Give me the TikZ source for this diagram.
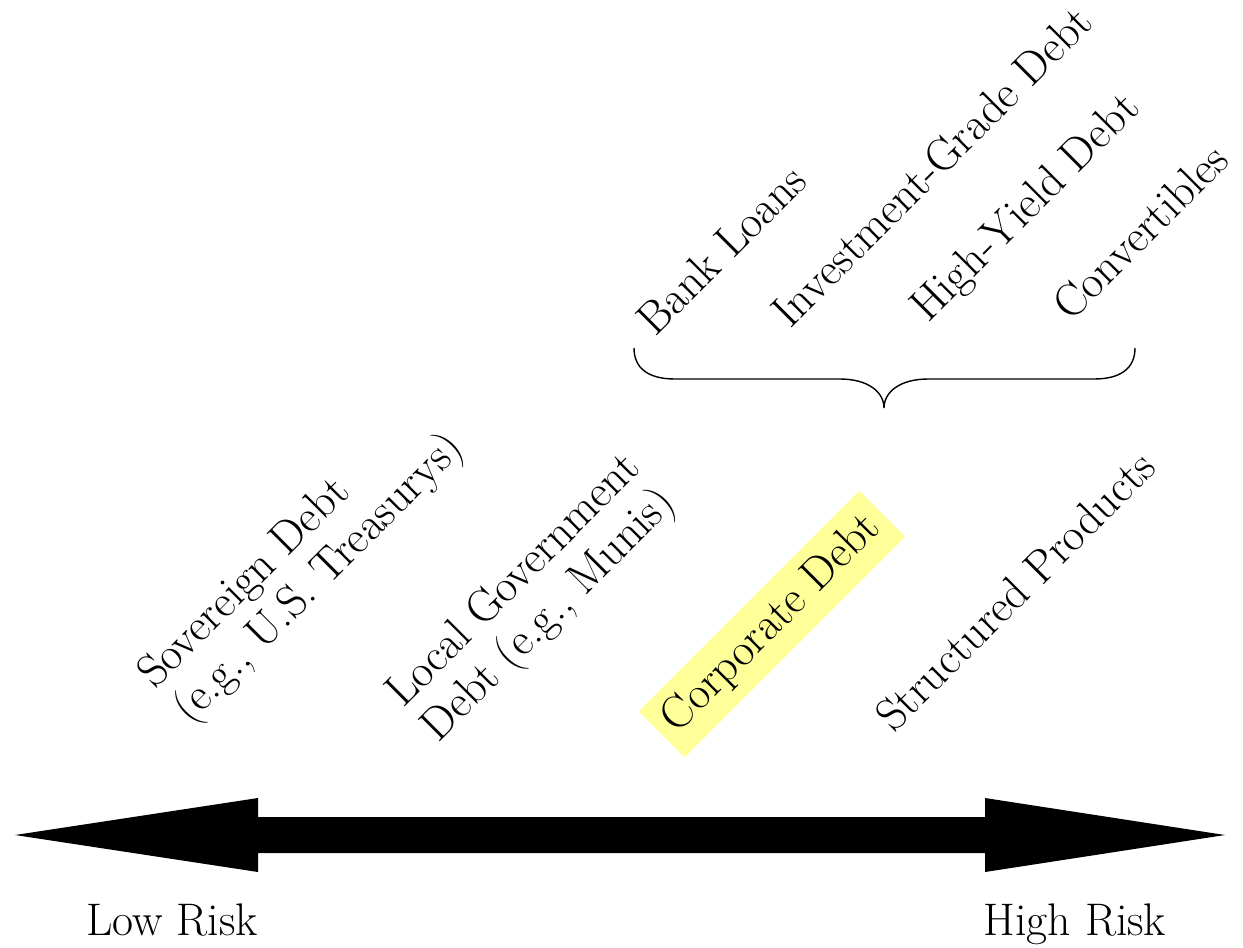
\documentclass[tikz,border=0pt]{standalone}
\usepackage{xcolor}
\usepackage{tikz}
\usetikzlibrary{calc, positioning}

\definecolor{hilite}{RGB}{255,255,153}

\begin{document}
\begin{tikzpicture}[x=0.02cm, y=-0.02cm,
    bigfont/.style={font=\fontsize{26}{28}\selectfont},
    lbl/.style={bigfont, rotate=45, inner sep=0pt, anchor=base west, align=left}]
    \useasboundingbox (0,0) rectangle (1243,947);

    % Mũi tên hai chiều
    \coordinate (tipL) at (15,835);
    \coordinate (tipR) at (1225,835);
    \fill (tipL) -- (258,798) -- (258,817) -- (985,817) -- (985,798) -- (tipR)
        -- (985,872) -- (985,853) -- (258,853) -- (258,872) -- cycle;
    \node[bigfont, anchor=base] (low) at (172,935) {Low Risk};
    \node[bigfont, anchor=base] (high) at (1075,935) {High Risk};

    % Các loại nợ
    \node[lbl] (sov) at (190,725) {Sovereign Debt\\(e.g., U.S. Treasurys)};
    \node[lbl] (loc) at (438,744) {Local Government\\Debt (e.g., Munis)};
    \node[lbl, anchor=center, fill=hilite, minimum width=6.24cm, minimum height=1.3cm]
        (corp) at (772,624) {Corporate Debt};
    \node[lbl] (struct) at (894,734) {Structured Products};

    % Nợ doanh nghiệp
    \foreach \name/\x/\y/\txt in {bank/655/338/Bank Loans, ig/790/330/Investment-Grade Debt,
        hy/928/324/High-Yield Debt, conv/1071/323/Convertibles} {
        \node[lbl] (\name) at (\x,\y) {\txt};
    }

    % Dấu ngoặc
    \draw[thick] (634,348) .. controls (634,368) and (648,379) .. (675,379) -- (840,379)
        .. controls (868,379) and (884,392) .. (884,408)
        .. controls (884,392) and (900,379) .. (928,379) -- (1094,379)
        .. controls (1121,379) and (1135,368) .. (1135,348);
\end{tikzpicture}
\end{document}
